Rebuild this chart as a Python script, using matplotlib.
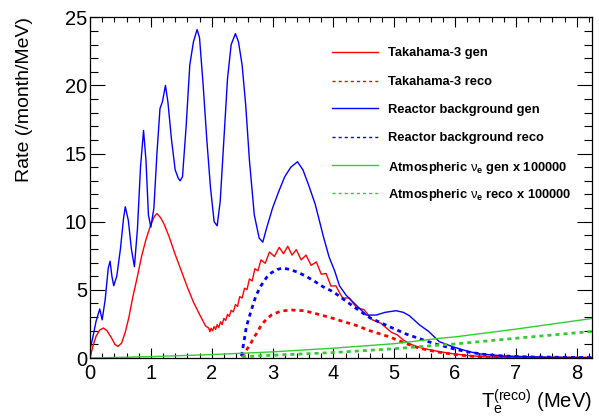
import matplotlib
matplotlib.use("Agg")
import matplotlib.pyplot as plt
from matplotlib.lines import Line2D
from matplotlib.ticker import MultipleLocator

plt.rcParams['font.family'] = ['Liberation Sans', 'DejaVu Sans']
plt.rcParams['mathtext.fontset'] = 'custom'
plt.rcParams['mathtext.rm'] = 'Liberation Sans'
plt.rcParams['mathtext.it'] = 'Liberation Sans'
plt.rcParams['mathtext.bf'] = 'Liberation Sans:bold'

# ---- data ----
reactor_gen_E = [0.00, 0.05, 0.10, 0.16, 0.20, 0.25, 0.30, 0.33, 0.36, 0.39, 0.44, 0.50, 0.55, 0.58,
                 0.63, 0.68, 0.73, 0.78, 0.83, 0.88, 0.92, 0.96, 1.00, 1.05, 1.10, 1.15, 1.19, 1.24,
                 1.28, 1.34, 1.40, 1.45, 1.48, 1.52, 1.58, 1.64, 1.70, 1.76, 1.80, 1.86, 1.92, 1.98,
                 2.04, 2.09, 2.14, 2.20, 2.26, 2.32, 2.39, 2.44, 2.50, 2.56, 2.62, 2.70, 2.78, 2.84,
                 2.90, 3.00, 3.10, 3.20, 3.30, 3.41, 3.50, 3.60, 3.70, 3.78, 3.83, 3.88, 3.93, 4.02,
                 4.10, 4.21, 4.37, 4.54, 4.70, 4.85, 5.03, 5.15, 5.25, 5.41, 5.57, 5.74, 5.96, 6.20,
                 6.40, 6.80, 7.50, 8.25]
reactor_gen_R = [0.6, 1.6, 2.7, 3.6, 2.8, 4.3, 6.6, 7.1, 6.0, 5.3, 6.0, 8.0, 10.2, 11.1,
                 10.1, 8.0, 6.7, 9.5, 14.0, 16.7, 14.5, 10.5, 9.6, 11.0, 15.0, 18.3, 18.8, 20.0,
                 18.8, 16.0, 13.8, 13.2, 13.0, 13.3, 17.0, 21.5, 23.2, 24.1, 23.5, 20.0, 16.0, 12.5,
                 10.0, 9.7, 11.5, 16.0, 20.5, 23.0, 23.8, 23.2, 21.5, 18.5, 14.5, 10.5, 8.8, 8.5,
                 9.5, 11.0, 12.2, 13.3, 14.0, 14.4, 13.8, 12.6, 11.3, 9.9, 9.0, 8.2, 7.4, 6.4,
                 5.3, 4.6, 3.9, 3.15, 3.15, 3.35, 3.47, 3.35, 3.1, 2.45, 1.93, 1.2, 0.83, 0.5,
                 0.3, 0.15, 0.05, 0.02]

reactor_reco_E = [2.49, 2.53, 2.57, 2.65, 2.73, 2.81, 2.90, 2.98, 3.08, 3.17, 3.28, 3.41, 3.55,
                  3.70, 3.82, 4.00, 4.20, 4.37, 4.60, 4.92, 5.20, 5.46, 5.70, 6.00, 6.20, 6.50,
                  6.80, 7.20, 7.80, 8.25]
reactor_reco_R = [0.15, 1.2, 2.3, 3.5, 4.6, 5.3, 5.9, 6.25, 6.5, 6.6, 6.5, 6.3, 6.0,
                  5.6, 5.25, 4.85, 4.2, 3.65, 2.95, 2.3, 1.75, 1.35, 1.0, 0.65, 0.45, 0.25,
                  0.15, 0.08, 0.05, 0.03]

takahama_gen_E = [0.00, 0.05, 0.10, 0.16, 0.22, 0.28, 0.35, 0.41, 0.46, 0.52, 0.58, 0.64, 0.70,
                  0.78, 0.85, 0.92, 1.00, 1.06, 1.10, 1.16, 1.22, 1.30, 1.40, 1.50, 1.60, 1.70,
                  1.80, 1.90, 1.95, 1.97, 1.99, 2.015, 2.04, 2.065, 2.09, 2.115, 2.145, 2.17,
                  2.20, 2.23, 2.26, 2.29, 2.32, 2.355, 2.39, 2.425, 2.46, 2.50, 2.54, 2.58,
                  2.62, 2.665, 2.71, 2.76, 2.81, 2.88, 2.95, 3.03, 3.11, 3.18, 3.25, 3.32,
                  3.39, 3.47, 3.55, 3.635, 3.72, 3.80, 3.88, 3.96, 4.04, 4.15, 4.26, 4.38,
                  4.50, 4.64, 4.78, 4.95, 5.05, 5.14, 5.25, 5.36, 5.50, 5.70, 5.90, 6.17,
                  6.50, 7.00, 8.25]
takahama_gen_R = [0.0, 0.9, 1.6, 2.05, 2.2, 2.0, 1.5, 1.0, 0.85, 1.1, 1.9, 3.0, 4.4,
                  6.0, 7.5, 8.7, 9.8, 10.4, 10.6, 10.3, 9.8, 8.9, 7.6, 6.4, 5.2, 4.1,
                  3.2, 2.35, 2.2, 1.93, 2.18, 2.0, 2.3, 2.1, 2.45, 2.23, 2.65, 2.45,
                  2.9, 2.75, 3.2, 3.05, 3.5, 3.38, 3.92, 3.78, 4.5, 4.4, 5.12, 5.02,
                  5.8, 5.65, 6.55, 6.4, 7.2, 6.95, 7.78, 7.45, 8.12, 7.65, 8.2, 7.55,
                  7.95, 7.2, 7.55, 6.8, 7.05, 6.15, 6.2, 5.28, 5.3, 4.4, 4.4, 3.7,
                  3.55, 2.8, 2.55, 1.9, 1.7, 1.35, 1.05, 0.85, 0.68, 0.5, 0.35, 0.2,
                  0.08, 0.02, 0.0]

takahama_reco_E = [2.49, 2.55, 2.62, 2.70, 2.76, 2.81, 2.90, 2.98, 3.14, 3.31, 3.52, 3.80, 4.00,
                   4.18, 4.37, 4.60, 4.92, 5.20, 5.41, 5.70, 6.00, 6.30, 6.60, 7.00, 8.25]
takahama_reco_R = [0.1, 0.45, 0.9, 1.55, 1.95, 2.4, 2.85, 3.15, 3.45, 3.52, 3.47, 3.15, 2.9,
                   2.65, 2.4, 2.0, 1.55, 1.05, 0.72, 0.45, 0.25, 0.12, 0.06, 0.03, 0.0]

atm_gen_E = [0.0, 1.0, 2.0, 3.0, 4.0, 5.0, 5.74, 6.0, 7.0, 8.25]
atm_gen_R = [0.0, 0.1, 0.25, 0.45, 0.72, 1.05, 1.44, 1.55, 2.12, 2.9]

atm_reco_E = [2.5, 3.0, 4.0, 5.0, 5.74, 6.0, 7.0, 8.25]
atm_reco_R = [0.1, 0.2, 0.4, 0.68, 0.95, 1.03, 1.45, 1.95]

labels = ["Takahama-3 gen", "Takahama-3 reco", "Reactor background gen",
          "Reactor background reco",
          r"Atmospheric $\nu_{\mathbf{e}}$ gen x 100000",
          r"Atmospheric $\nu_{\mathbf{e}}$ reco x 100000"]

x_range = (0, 8.25)
y_range = (0, 25)

# ---- figure ----
W, H = 599, 416
fig = plt.figure(figsize=(W / 100, H / 100), dpi=100)
ax = fig.add_axes([90/W, 58/H, 502/W, 340.7/H])

red = '#ff0000'
blue = '#0000ff'
green = '#33cc33'
dot = (0, (1.45, 1.45))

l1, = ax.plot(takahama_gen_E, takahama_gen_R, color=red, lw=1.0)
l2, = ax.plot(takahama_reco_E, takahama_reco_R, color=red, lw=2.0, linestyle=dot)
l3, = ax.plot(reactor_gen_E, reactor_gen_R, color=blue, lw=1.0)
l4, = ax.plot(reactor_reco_E, reactor_reco_R, color=blue, lw=2.0, linestyle=dot)
l5, = ax.plot(atm_gen_E, atm_gen_R, color=green, lw=1.0)
l6, = ax.plot(atm_reco_E, atm_reco_R, color=green, lw=2.0, linestyle=dot)

ax.set_xlim(*x_range)
ax.set_ylim(*y_range)
ax.xaxis.set_major_locator(MultipleLocator(1))
ax.xaxis.set_minor_locator(MultipleLocator(0.2))
ax.yaxis.set_major_locator(MultipleLocator(5))
ax.yaxis.set_minor_locator(MultipleLocator(1))
ax.tick_params(which='both', direction='in', top=True, right=True, width=0.8, labelsize=14.5)
ax.xaxis.set_tick_params(which='major', length=7.5, pad=4.5)
ax.xaxis.set_tick_params(which='minor', length=3.7)
ax.yaxis.set_tick_params(which='major', length=11, pad=2.0)
ax.yaxis.set_tick_params(which='minor', length=5.5)
for s in ax.spines.values():
    s.set_linewidth(0.9)

# legend (no frame), rows placed as in the reference
rows_px = [51.7, 80.5, 108.3, 136.7, 165.0, 192.7]
for line, lab, ypx in zip([l1, l2, l3, l4, l5, l6], labels, rows_px):
    yf = 1 - ypx / H
    fig.add_artist(Line2D([332/W, 378/W], [yf, yf], color=line.get_color(), lw=1.0,
                          linestyle=line.get_linestyle(),
                          dashes=(2.2, 2.2) if line.get_linestyle() != '-' else (None, None)))
    fig.text(388/W, yf, lab, ha='left', va='center_baseline', fontsize=9.3, fontweight='bold')

fig.text(25/W, 0.958, "Rate (/month/MeV)", rotation=90, ha='center', va='top', fontsize=14)
fig.text(592/W, 8/H, r"T$_\mathregular{e}^\mathregular{(reco)}$ (MeV)", ha='right',
         va='baseline', fontsize=14.5)

fig.savefig("out.png", dpi=100)
